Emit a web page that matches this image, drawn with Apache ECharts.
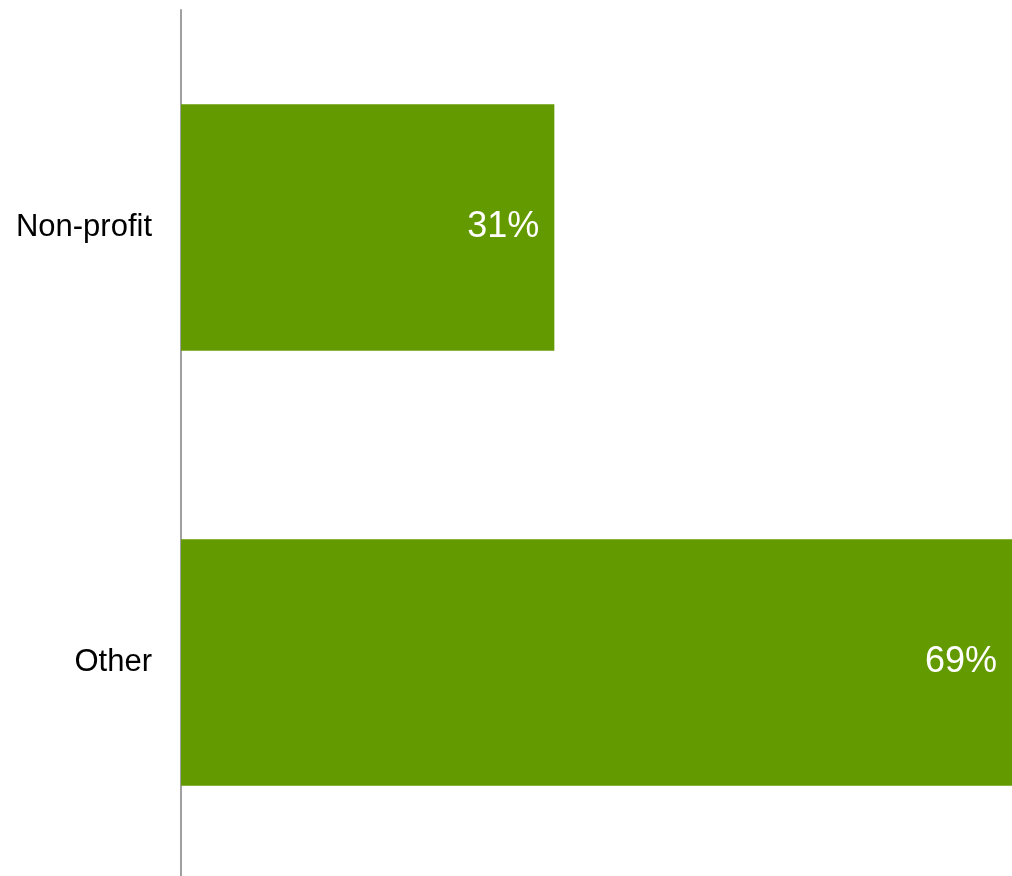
<!DOCTYPE html>
<html>
<head>
<meta charset="utf-8">
<style>
  html, body { margin: 0; padding: 0; background: #ffffff; }
  #chart { width: 1012px; height: 876px; }
</style>
<script src="https://cdn.jsdelivr.net/npm/echarts@6/dist/echarts.min.js"></script>
</head>
<body>
<div id="chart"></div>
<script>
// Share of organisations by type (percent)
const categories = ['Non-profit', 'Other'];
const shares = [31, 69];

const chart = echarts.init(document.getElementById('chart'), null, { renderer: 'canvas' });

chart.setOption({
  animation: false,
  backgroundColor: '#ffffff',
  grid: {
    left: 181, right: 0, top: 10, height: 870,
    containLabel: false,
    outerBoundsMode: 'none'
  },
  xAxis: {
    type: 'value',
    min: 0,
    max: 69,
    show: false
  },
  yAxis: {
    type: 'category',
    data: categories,
    inverse: true,
    axisLine: { show: true, lineStyle: { color: '#a0a0a0', width: 2 } },
    axisTick: { show: false },
    splitLine: { show: false },
    axisLabel: {
      color: '#000000',
      fontFamily: 'Liberation Sans, Arial, sans-serif',
      fontSize: 31,
      margin: 29
    }
  },
  series: [{
    type: 'bar',
    data: shares,
    barWidth: '56.7%',
    itemStyle: { color: '#639A00' },
    label: {
      show: true,
      position: 'insideRight',
      distance: 15,
      color: '#ffffff',
      fontFamily: 'Liberation Sans, Arial, sans-serif',
      fontSize: 36,
      formatter: p => p.value + '%'
    }
  }]
});
</script>
</body>
</html>
